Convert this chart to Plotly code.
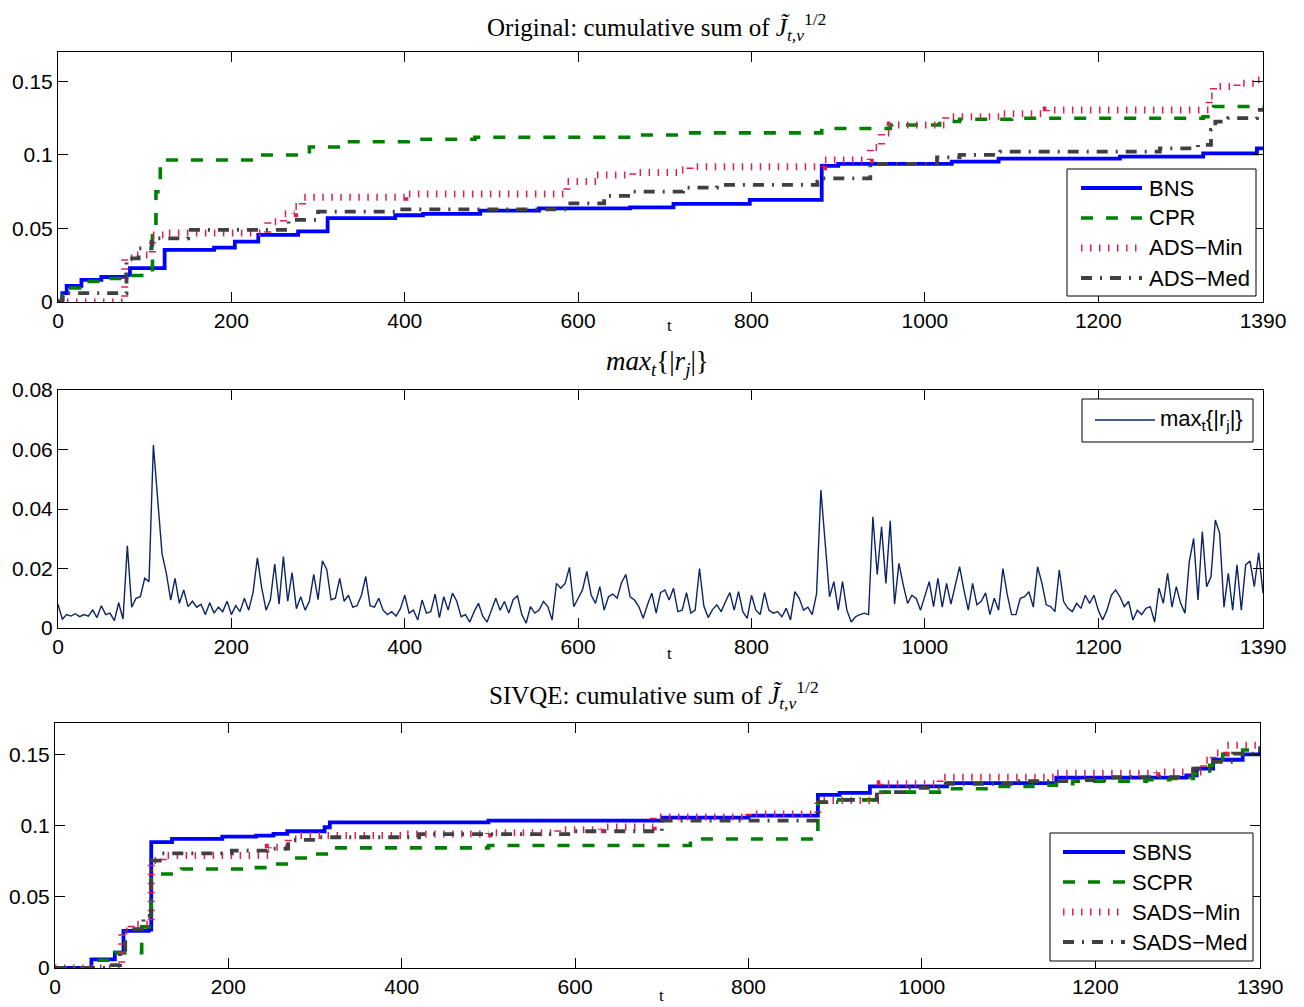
import plotly.graph_objects as go

# ---------------- data ----------------
# Top panel: cumulative sums (step breakpoints t, value)
bns_t = [0, 5, 10, 27, 50, 79, 83, 123, 180, 204, 231, 277, 311, 389, 421, 487, 555, 660, 710, 798, 881, 900, 1031, 1085, 1225, 1321, 1383, 1390]
bns_v = [0, 0.006, 0.011, 0.015, 0.017, 0.0184, 0.023, 0.0354, 0.037, 0.041, 0.0456, 0.048, 0.057, 0.059, 0.0599, 0.0621, 0.0637, 0.0644, 0.0667, 0.0694, 0.0925, 0.0939, 0.0954, 0.0975, 0.0989, 0.1011, 0.1045, 0.1045]

cpr_t = [0, 5, 12, 25, 50, 75, 100, 109, 113, 118, 227, 290, 331, 404, 481, 663, 717, 881, 960, 1017, 1040, 1100, 1321, 1333, 1390]
cpr_v = [0, 0.004, 0.0095, 0.014, 0.016, 0.018, 0.022, 0.045, 0.075, 0.0966, 0.1, 0.1054, 0.109, 0.1107, 0.112, 0.1136, 0.115, 0.118, 0.1204, 0.1227, 0.1243, 0.125, 0.126, 0.1329, 0.1329]

adsmin_t = [0, 77, 90, 109, 125, 242, 260, 273, 282, 400, 587, 621, 663, 717, 729, 883, 937, 950, 960, 1024, 1090, 1140, 1328, 1333, 1360, 1383, 1390]
adsmin_v = [0, 0.030, 0.032, 0.0456, 0.047, 0.0546, 0.06, 0.065, 0.0712, 0.0735, 0.0819, 0.0864, 0.088, 0.0898, 0.092, 0.0966, 0.105, 0.115, 0.1204, 0.126, 0.128, 0.1306, 0.14, 0.1465, 0.1488, 0.151, 0.151]

adsmed_t = [0, 5, 10, 79, 93, 108, 150, 266, 300, 389, 591, 630, 663, 721, 760, 876, 881, 937, 1014, 1040, 1087, 1271, 1315, 1330, 1335, 1350, 1383, 1390]
adsmed_v = [0, 0.003, 0.006, 0.0297, 0.0365, 0.0433, 0.049, 0.0558, 0.0614, 0.063, 0.0671, 0.0721, 0.075, 0.0778, 0.0796, 0.0819, 0.0841, 0.0939, 0.0984, 0.1, 0.1022, 0.1045, 0.1068, 0.117, 0.1227, 0.125, 0.1306, 0.1306]

# Middle panel: max_t{|r_j|}, sampled every 5 t
r_step = 5
r_vals = [
    0.008, 0.003, 0.0045, 0.004, 0.0048, 0.0038, 0.0045, 0.004, 0.006, 0.0035, 0.0075, 0.0045, 0.005, 0.0025, 0.0085, 0.003, 0.0276, 0.007, 0.01, 0.0105,
    0.0167, 0.0156, 0.0615, 0.0436, 0.025, 0.0184, 0.0094, 0.0167, 0.0083, 0.0128, 0.0072, 0.009, 0.007, 0.008, 0.0045, 0.0085, 0.005, 0.007, 0.0055, 0.009,
    0.0045, 0.0075, 0.0055, 0.01, 0.006, 0.012, 0.0236, 0.0135, 0.006, 0.0095, 0.0215, 0.008, 0.024, 0.009, 0.0186, 0.0065, 0.0105, 0.006, 0.009, 0.018,
    0.0095, 0.0226, 0.0197, 0.0095, 0.01, 0.0167, 0.009, 0.011, 0.007, 0.0075, 0.011, 0.0173, 0.0075, 0.007, 0.01, 0.006, 0.0045, 0.0055, 0.004, 0.0065,
    0.011, 0.005, 0.006, 0.0027, 0.0094, 0.005, 0.0055, 0.0114, 0.0035, 0.0105, 0.006, 0.0117, 0.009, 0.0038, 0.0045, 0.002, 0.0055, 0.0083, 0.004, 0.002,
    0.006, 0.01, 0.006, 0.0089, 0.005, 0.0095, 0.0108, 0.0045, 0.0016, 0.0072, 0.005, 0.006, 0.0089, 0.0072, 0.0027, 0.015, 0.0134, 0.015, 0.0204, 0.0072,
    0.01, 0.0128, 0.019, 0.0111, 0.0083, 0.0139, 0.006, 0.0105, 0.0114, 0.01, 0.0152, 0.018, 0.0105, 0.0094, 0.0072, 0.0033, 0.0078, 0.0117, 0.005, 0.0119,
    0.0128, 0.0094, 0.0134, 0.0055, 0.006, 0.0119, 0.005, 0.006, 0.02, 0.0074, 0.0035, 0.0062, 0.0078, 0.0055, 0.0089, 0.0119, 0.006, 0.0122, 0.0055, 0.0032,
    0.011, 0.006, 0.0045, 0.0119, 0.006, 0.005, 0.0055, 0.0038, 0.0066, 0.0027, 0.0122, 0.01, 0.006, 0.007, 0.0045, 0.0115, 0.0464, 0.0298, 0.0105, 0.0156,
    0.006, 0.0156, 0.006, 0.002, 0.0038, 0.0045, 0.005, 0.0045, 0.0374, 0.018, 0.034, 0.015, 0.036, 0.008, 0.0217, 0.0145, 0.0083, 0.011, 0.0099, 0.006,
    0.0105, 0.0156, 0.0072, 0.0167, 0.007, 0.015, 0.008, 0.0145, 0.0206, 0.0128, 0.006, 0.015, 0.0078, 0.009, 0.0118, 0.0045, 0.01, 0.006, 0.02, 0.0112,
    0.0045, 0.0045, 0.01, 0.0105, 0.0122, 0.007, 0.0206, 0.015, 0.0078, 0.0072, 0.0055, 0.0195, 0.0089, 0.0066, 0.0055, 0.0083, 0.0066, 0.011, 0.0083, 0.011,
    0.006, 0.0027, 0.006, 0.011, 0.0128, 0.0105, 0.0072, 0.0089, 0.0027, 0.006, 0.0045, 0.0066, 0.0072, 0.002, 0.0134, 0.0083, 0.0184, 0.007, 0.0139, 0.0083,
    0.005, 0.0223, 0.0301, 0.0094, 0.0324, 0.0139, 0.0172, 0.0363, 0.0318, 0.007, 0.0184, 0.006, 0.0212, 0.006, 0.0212, 0.0225, 0.0139, 0.0253, 0.0117,
]
r_t = [i * r_step for i in range(len(r_vals))]

# Bottom panel: SIVQE cumulative sums
sbns_t = [0, 42, 69, 79, 108, 111, 135, 193, 232, 252, 268, 311, 317, 500, 700, 800, 880, 905, 940, 1029, 1155, 1305, 1317, 1336, 1370, 1390]
sbns_v = [0, 0.0061, 0.0108, 0.026, 0.027, 0.0883, 0.0906, 0.0922, 0.093, 0.0941, 0.096, 0.0988, 0.1023, 0.1035, 0.1056, 0.107, 0.1216, 0.123, 0.1275, 0.1298, 0.1336, 0.1352, 0.14, 0.1462, 0.15, 0.1523]

scpr_t = [0, 42, 69, 100, 111, 146, 223, 250, 273, 300, 319, 500, 733, 880, 900, 944, 1029, 1086, 1128, 1155, 1174, 1259, 1286, 1313, 1332, 1347, 1370, 1390]
scpr_v = [0, 0.0054, 0.0108, 0.0289, 0.066, 0.0695, 0.0705, 0.073, 0.0772, 0.08, 0.0843, 0.086, 0.0906, 0.1164, 0.118, 0.1235, 0.1258, 0.1275, 0.1283, 0.1293, 0.1312, 0.1322, 0.133, 0.1364, 0.1423, 0.15, 0.153, 0.1556]

sadsmin_t = [0, 77, 88, 111, 125, 246, 269, 280, 400, 500, 580, 630, 690, 800, 880, 952, 1021, 1155, 1271, 1325, 1336, 1351, 1390]
sadsmin_v = [0, 0.026, 0.0307, 0.0754, 0.0789, 0.0847, 0.0906, 0.093, 0.094, 0.095, 0.097, 0.099, 0.106, 0.1082, 0.1176, 0.1293, 0.134, 0.1368, 0.1376, 0.1458, 0.151, 0.1563, 0.158]

sadsmed_t = [0, 60, 75, 81, 102, 111, 123, 204, 245, 269, 300, 420, 600, 700, 880, 910, 948, 982, 1021, 1105, 1182, 1221, 1313, 1336, 1359, 1390]
sadsmed_v = [0, 0.002, 0.0108, 0.0272, 0.0366, 0.0754, 0.0805, 0.0824, 0.0838, 0.0899, 0.0918, 0.094, 0.096, 0.1035, 0.1164, 0.118, 0.1235, 0.1265, 0.1293, 0.1312, 0.132, 0.134, 0.14, 0.1448, 0.1505, 0.1549]

x_ticks = [0, 200, 400, 600, 800, 1000, 1200, 1390]
y_ticks_cum = [0, 0.05, 0.1, 0.15]
y_ticklabels_cum = ["0", "0.05", "0.1", "0.15"]
y_ticks_r = [0, 0.02, 0.04, 0.06, 0.08]
y_ticklabels_r = ["0", "0.02", "0.04", "0.06", "0.08"]

top_names = ["BNS", "CPR", "ADS\u2212Min", "ADS\u2212Med"]
mid_name = "max<sub>t</sub>{|r<sub>j</sub>|}"
bot_names = ["SBNS", "SCPR", "SADS\u2212Min", "SADS\u2212Med"]

# ---------------- figure ----------------
W, H = 1304, 1007
OFF = 8  # page body margin
SANS = "Liberation Sans, Arial, sans-serif"
SERIF = "Liberation Serif, DejaVu Serif, serif"

BLUE = "#0000FF"
GREEN = "#008000"
RED = "#DC2052"
GRAY = "#404040"
NAVY = "#0B2466"

STYLES = [
    dict(color=BLUE, width=3.8, dash="solid"),
    dict(color=GREEN, width=3.6, dash="12px,13px"),
    dict(color=RED, width=7, dash="1.5px,7.5px"),
    dict(color=GRAY, width=3.8, dash="11px,8px,2px,8px"),
]


def fx(p):
    return (p - OFF) / W


def fy(p):
    return 1 - (p - OFF) / H


fig = go.Figure()


def step(x, y, style, xa, ya):
    fig.add_trace(go.Scatter(x=x, y=y, mode="lines", line_shape="hv",
                             line=dict(**style), xaxis=xa, yaxis=ya, showlegend=False))


for (xs, ys), st in zip([(bns_t, bns_v), (cpr_t, cpr_v), (adsmin_t, adsmin_v), (adsmed_t, adsmed_v)], STYLES):
    step(xs, ys, st, "x", "y")

fig.add_trace(go.Scatter(x=r_t, y=r_vals, mode="lines",
                         line=dict(color=NAVY, width=1.4), xaxis="x2", yaxis="y2", showlegend=False))

for (xs, ys), st in zip([(sbns_t, sbns_v), (scpr_t, scpr_v), (sadsmin_t, sadsmin_v), (sadsmed_t, sadsmed_v)], STYLES):
    step(xs, ys, st, "x3", "y3")

axis_common = dict(showline=True, linecolor="black", linewidth=1, mirror="ticks",
                   ticks="inside", ticklen=10, tickwidth=1, tickcolor="black",
                   showgrid=False, zeroline=False, automargin=False,
                   tickfont=dict(family=SANS, size=21, color="black"))

fig.update_layout(
    width=W, height=H, margin=dict(l=0, r=0, t=0, b=0),
    paper_bgcolor="white", plot_bgcolor="white", showlegend=False,
    xaxis=dict(domain=[fx(58), fx(1263)], anchor="y", range=[0, 1390], tickvals=x_ticks, **axis_common),
    yaxis=dict(domain=[fy(302), fy(52)], anchor="x", range=[0, 0.17], tickvals=y_ticks_cum,
               ticktext=y_ticklabels_cum, **axis_common),
    xaxis2=dict(domain=[fx(58), fx(1263)], anchor="y2", range=[0, 1390], tickvals=x_ticks, **axis_common),
    yaxis2=dict(domain=[fy(628), fy(390)], anchor="x2", range=[0, 0.08], tickvals=y_ticks_r,
                ticktext=y_ticklabels_r, **axis_common),
    xaxis3=dict(domain=[fx(55), fx(1260)], anchor="y3", range=[0, 1390], tickvals=x_ticks, **axis_common),
    yaxis3=dict(domain=[fy(968), fy(723)], anchor="x3", range=[0, 0.172], tickvals=y_ticks_cum,
                ticktext=y_ticklabels_cum, **axis_common),
)

# ---------- manual legends (page pixel geometry) ----------
def legend_box(x0, y0, x1, y1):
    fig.add_shape(type="rect", xref="paper", yref="paper", x0=fx(x0), x1=fx(x1), y0=fy(y1), y1=fy(y0),
                  line=dict(color="black", width=1), fillcolor="white", layer="above")


def legend_item(lx0, lx1, y, text, style, tx):
    fig.add_shape(type="line", xref="paper", yref="paper", x0=fx(lx0), x1=fx(lx1), y0=fy(y), y1=fy(y),
                  line=dict(color=style["color"], width=min(style["width"], 7), dash=style["dash"]),
                  layer="above")
    fig.add_annotation(text=text, x=fx(tx), y=fy(y), xref="paper", yref="paper", showarrow=False,
                       xanchor="left", yanchor="middle", font=dict(family=SANS, size=22, color="black"))


legend_box(1067, 169, 1256, 296)
for i, (nm, st) in enumerate(zip(top_names, STYLES)):
    legend_item(1081, 1142, 188 + 30 * i, nm, st, 1147)

legend_box(1082, 399, 1253, 442)
legend_item(1095, 1155, 420, mid_name, dict(color=NAVY, width=1.4, dash="solid"), 1158)

legend_box(1050, 833, 1253, 961)
for i, (nm, st) in enumerate(zip(bot_names, STYLES)):
    legend_item(1063, 1125, 852 + 30 * i, nm, st, 1130)


def title(text, xc, yc, size=25):
    fig.add_annotation(text=text, x=fx(xc), y=fy(yc), xref="paper", yref="paper",
                       showarrow=False, xanchor="center", yanchor="middle",
                       font=dict(family=SERIF, size=size, color="black"))


title("Original: cumulative sum of <i>J\u0303</i><sub><i>t,\u03bd</i></sub><sup>1/2</sup>", 656, 27)
title("<i>max</i><sub><i>t</i></sub>{|<i>r</i><sub><i>j</i></sub>|}", 657, 363, size=27)
title("SIVQE: cumulative sum of <i>J\u0303</i><sub><i>t,\u03bd</i></sub><sup>1/2</sup>", 654, 695)
title("t", 669, 325, size=17)
title("t", 669, 653, size=17)
title("t", 661, 995, size=17)

fig.write_html("out.html")
